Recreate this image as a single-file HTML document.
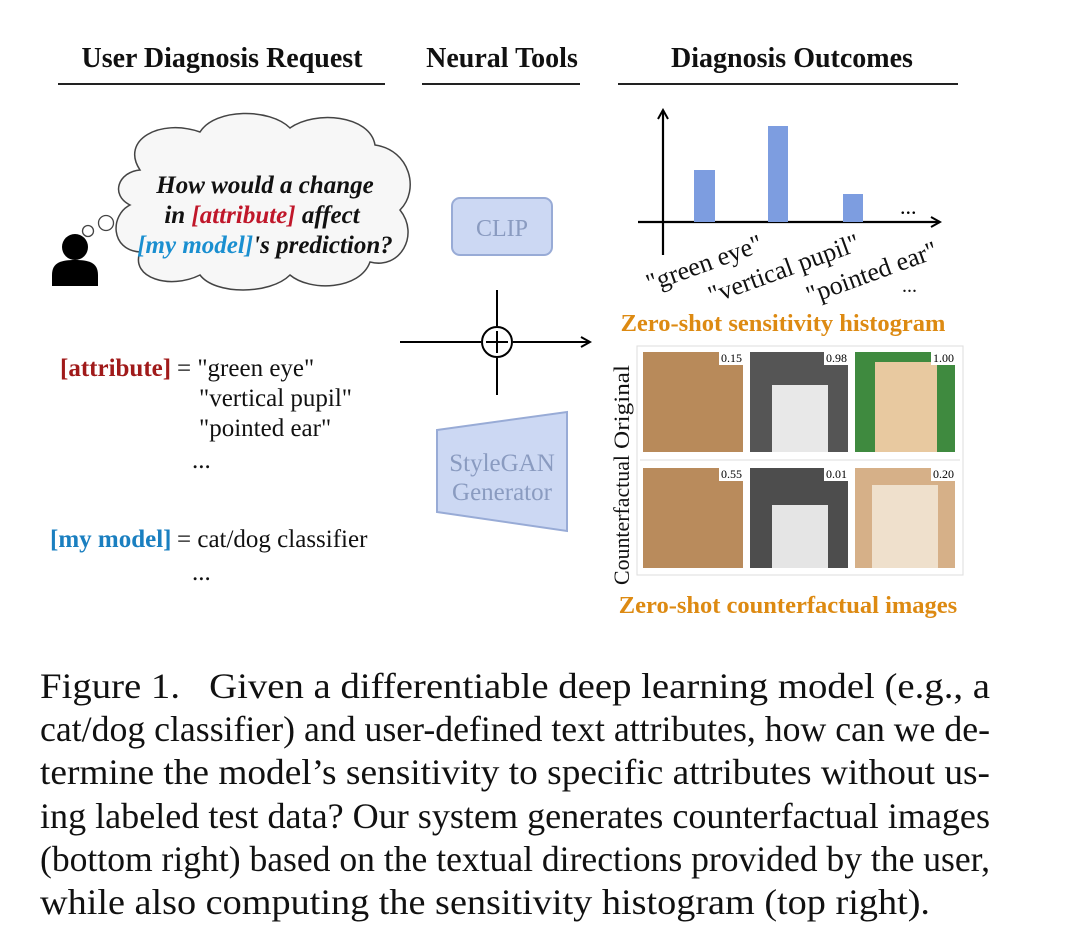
<!DOCTYPE html>
<html><head><meta charset="utf-8"><style>
body{margin:0;width:1080px;height:952px;background:#fff;overflow:hidden;font-family:"Liberation Serif",serif}
</style></head><body>
<svg width="1080" height="952" style="position:absolute;left:0;top:0" font-family="Liberation Serif, serif">
<defs>
<marker id="ar" markerWidth="12" markerHeight="12" refX="10" refY="6" orient="auto" markerUnits="userSpaceOnUse"><path d="M1,1 L10,6 L1,11" fill="none" stroke="#000" stroke-width="2"/></marker>
</defs>
<g font-weight="bold" font-size="28" text-anchor="middle" fill="#111">
<text x="222" y="67">User Diagnosis Request</text>
<text x="502" y="67">Neural Tools</text>
<text x="792" y="67">Diagnosis Outcomes</text>
</g>
<g stroke="#222" stroke-width="2"><line x1="58" y1="84" x2="385" y2="84"/><line x1="422" y1="84" x2="580" y2="84"/><line x1="618" y1="84" x2="958" y2="84"/></g>
<path d="M140,170 C120,140 160,118 200,132 C215,108 270,108 290,128 C315,110 370,115 375,145 C410,150 420,190 400,210 C420,235 400,270 370,262 C360,290 310,292 290,275 C270,295 215,295 200,275 C170,290 130,278 140,252 C110,250 110,215 130,205 C110,195 118,172 140,170 Z" fill="#f7f7f7" stroke="#444" stroke-width="1.5"/>
<circle cx="88" cy="231" r="5.5" fill="#fff" stroke="#444" stroke-width="1.3"/>
<circle cx="106" cy="223" r="7.5" fill="#fff" stroke="#444" stroke-width="1.3"/>
<circle cx="75" cy="247" r="13" fill="#000"/>
<path d="M52,286 L52,275 C52,262 62,260 75,260 C88,260 98,262 98,275 L98,286 Z" fill="#000"/>
<g font-weight="bold" font-style="italic" font-size="25" text-anchor="middle" fill="#111">
<text x="265" y="193">How would a change</text>
<text x="262" y="223">in <tspan fill="#c0172a">[attribute]</tspan> affect</text>
<text x="265" y="253"><tspan fill="#1a8fd0">[my model]</tspan>'s prediction?</text>
</g>
<rect x="452" y="198" width="100" height="57" rx="8" fill="#ccd8f3" stroke="#98abd6" stroke-width="2"/>
<text x="502" y="236" font-size="24" text-anchor="middle" fill="#8a9bc0">CLIP</text>
<line x1="497" y1="290" x2="497" y2="326" stroke="#000" stroke-width="2"/>
<line x1="497" y1="358" x2="497" y2="395" stroke="#000" stroke-width="2"/>
<line x1="400" y1="342" x2="481" y2="342" stroke="#000" stroke-width="2"/>
<line x1="513" y1="342" x2="590" y2="342" stroke="#000" stroke-width="2" marker-end="url(#ar)"/>
<circle cx="497" cy="342" r="15" fill="#fff" stroke="#000" stroke-width="2"/>
<line x1="486" y1="342" x2="508" y2="342" stroke="#000" stroke-width="2"/>
<line x1="497" y1="331" x2="497" y2="353" stroke="#000" stroke-width="2"/>
<path d="M437,430 L567,412 L567,531 L437,512 Z" fill="#ccd8f3" stroke="#98abd6" stroke-width="2"/>
<g font-size="25" text-anchor="middle" fill="#8a9bc0"><text x="502" y="471">StyleGAN</text><text x="502" y="500">Generator</text></g>
<g font-size="25" fill="#111">
<text x="60" y="376" font-weight="bold" fill="#a01a1a">[attribute]</text>
<text x="177" y="376">= "green eye"</text>
<text x="199" y="406">"vertical pupil"</text>
<text x="199" y="436">"pointed ear"</text>
<text x="192" y="468">...</text>
<text x="50" y="547" font-weight="bold" fill="#1a7fc0">[my model]</text>
<text x="177" y="547">= cat/dog classifier</text>
<text x="192" y="580">...</text>
</g>
<line x1="663" y1="255" x2="663" y2="110" stroke="#000" stroke-width="2.2" marker-end="url(#ar)"/>
<line x1="638" y1="222" x2="940" y2="222" stroke="#000" stroke-width="2.2" marker-end="url(#ar)"/>
<g fill="#7d9de0"><rect x="694" y="170" width="21" height="52"/><rect x="768" y="126" width="20" height="96"/><rect x="843" y="194" width="20" height="28"/></g>
<text x="900" y="214" font-size="22">...</text>
<g font-size="26" fill="#111">
<text transform="translate(650,292) rotate(-20)">"green eye"</text>
<text transform="translate(712,304) rotate(-20)">"vertical pupil"</text>
<text transform="translate(810,304) rotate(-20)">"pointed ear"</text>
<text x="902" y="292" font-size="20">...</text>
</g>
<g font-weight="bold" font-size="24.5" fill="#dd8a12" text-anchor="middle">
<text x="783" y="331">Zero-shot sensitivity histogram</text>
<text x="788" y="613">Zero-shot counterfactual images</text>
</g>
<rect x="637" y="346" width="326" height="229" fill="#fff" stroke="#ddd"/>
<line x1="640" y1="460" x2="960" y2="460" stroke="#ddd"/>
<g>
<rect x="643" y="352" width="100" height="100" fill="#b88a5a"/>
<rect x="750" y="352" width="98" height="100" fill="#555"/>
<rect x="772" y="385" width="56" height="67" fill="#e8e8e8"/>
<rect x="855" y="352" width="100" height="100" fill="#3f8a3f"/>
<rect x="875" y="362" width="62" height="90" fill="#e8c9a0"/>
<rect x="643" y="468" width="100" height="100" fill="#b98b5c"/>
<rect x="750" y="468" width="98" height="100" fill="#4d4d4d"/>
<rect x="772" y="505" width="56" height="63" fill="#e5e5e5"/>
<rect x="855" y="468" width="100" height="100" fill="#d6b088"/>
<rect x="872" y="485" width="66" height="83" fill="#efe0cc"/>
</g>
<g font-size="12" fill="#000" text-anchor="end">
<rect x="719" y="352" width="24" height="13" fill="#fff"/><text x="742" y="362">0.15</text>
<rect x="824" y="352" width="24" height="13" fill="#fff"/><text x="847" y="362">0.98</text>
<rect x="931" y="352" width="24" height="13" fill="#fff"/><text x="954" y="362">1.00</text>
<rect x="719" y="468" width="24" height="13" fill="#fff"/><text x="742" y="478">0.55</text>
<rect x="824" y="468" width="24" height="13" fill="#fff"/><text x="847" y="478">0.01</text>
<rect x="931" y="468" width="24" height="13" fill="#fff"/><text x="954" y="478">0.20</text>
</g>
<g font-size="22" fill="#111">
<text transform="translate(629,449) rotate(-90)" textLength="84" lengthAdjust="spacingAndGlyphs">Original</text>
<text transform="translate(629,585) rotate(-90)" textLength="130" lengthAdjust="spacingAndGlyphs">Counterfactual</text>
</g>
<g font-size="36" fill="#111">
<text x="40" y="698" textLength="950" lengthAdjust="spacingAndGlyphs">Figure 1.&#160;&#160;&#160;Given a differentiable deep learning model (e.g., a</text>
<text x="40" y="741" textLength="950" lengthAdjust="spacingAndGlyphs">cat/dog classifier) and user-defined text attributes, how can we de-</text>
<text x="40" y="784" textLength="950" lengthAdjust="spacingAndGlyphs">termine the model’s sensitivity to specific attributes without us-</text>
<text x="40" y="828" textLength="950" lengthAdjust="spacingAndGlyphs">ing labeled test data? Our system generates counterfactual images</text>
<text x="40" y="871" textLength="950" lengthAdjust="spacingAndGlyphs">(bottom right) based on the textual directions provided by the user,</text>
<text x="40" y="914" textLength="890" lengthAdjust="spacingAndGlyphs">while also computing the sensitivity histogram (top right).</text>
</g>
</svg>
</body></html>
